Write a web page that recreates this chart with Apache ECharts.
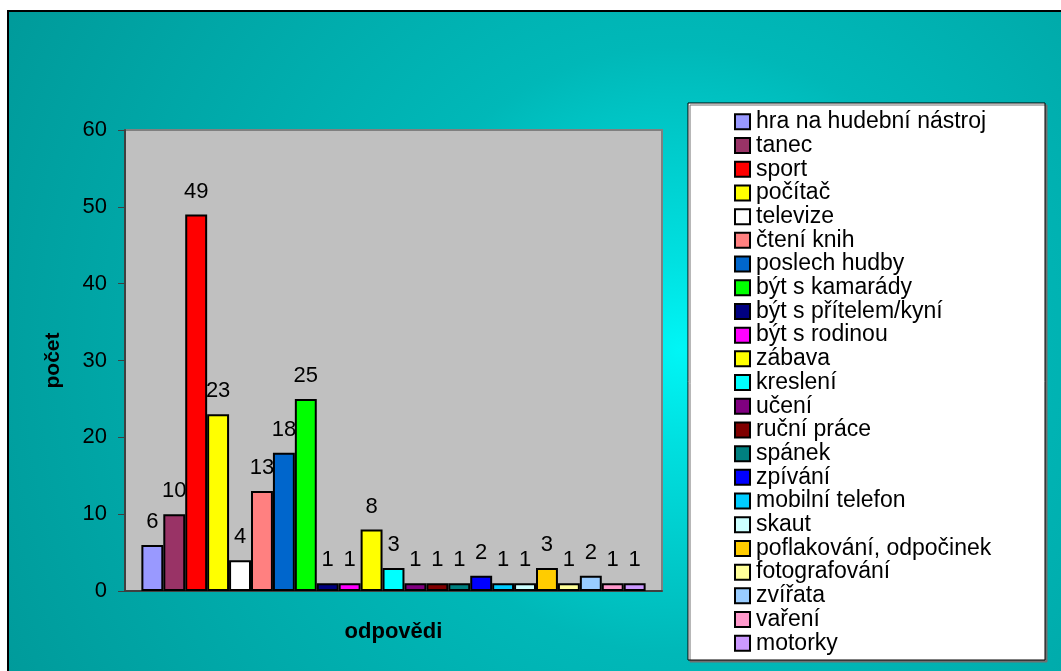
<!DOCTYPE html>
<html>
<head>
<meta charset="utf-8">
<script src="https://cdn.jsdelivr.net/npm/echarts@6/dist/echarts.min.js"></script>
<style>
html,body{margin:0;padding:0;background:#fff;}
#chart{width:1061px;height:671px;}
</style>
</head>
<body>
<div id="chart"></div>
<script>
const categories = ['hra na hudební nástroj','tanec','sport','počítač','televize','čtení knih','poslech hudby','být s kamarády','být s přítelem/kyní','být s rodinou','zábava','kreslení','učení','ruční práce','spánek','zpívání','mobilní telefon','skaut','poflakování, odpočinek','fotografování','zvířata','vaření','motorky'];
const values = [6,10,49,23,4,13,18,25,1,1,8,3,1,1,1,2,1,1,3,1,2,1,1];
const colors = ['#9999FF','#993366','#FF0000','#FFFF00','#FFFFFF','#FF8080','#0066CC','#00FF00','#000080','#FF00FF','#FFFF00','#00FFFF','#800080','#800000','#008080','#0000FF','#00CCFF','#CCFFFF','#FFCC00','#FFFF99','#99CCFF','#FF99CC','#CC99FF'];
const yTicks = [0,10,20,30,40,50,60];

const FONT = 'Arial, "Liberation Sans", sans-serif';
const chart = echarts.init(document.getElementById('chart'), null, {renderer:'canvas'});

const series = categories.map((name, i) => ({
  name: name,
  type: 'bar',
  data: [values[i]],
  barGap: '0%',
  barCategoryGap: '6.1%',
  itemStyle: { color: colors[i], borderColor: '#000', borderWidth: 2 },
  label: { show: true, position: 'top', distance: 12, color: '#000', fontSize: 22, fontFamily: FONT },
  emphasis: { disabled: true },
  animation: false
}));

chart.setOption({
  animation: false,
  graphic: [
    { type: 'rect', z: -10, silent: true,
      shape: { x: 8, y: 11, width: 1100, height: 700 },
      style: { fill: { type: 'radial', x: 680, y: 350, r: 760, global: true,
        colorStops: [ {offset:0, color:'#00F6F6'}, {offset:0.12, color:'#00E0E0'}, {offset:0.4, color:'#00B8B8'}, {offset:1, color:'#009A9A'} ] },
        stroke: '#000', lineWidth: 2 } },
    { type: 'rect', z: 1, silent: true,
      shape: { x: 688, y: 103, width: 357, height: 557 },
      style: { fill: '#fff', stroke: '#000', lineWidth: 1, shadowColor: '#707070', shadowOffsetX: 2, shadowOffsetY: 2, shadowBlur: 0 } }
  ],
  grid: { left: 125, top: 130, right: 399, bottom: 80, show: true, backgroundColor: '#C0C0C0', borderColor: '#808080', borderWidth: 2 },
  legend: {
    orient: 'vertical', left: 734, top: 110, padding: 0, itemGap: 0,
    itemWidth: 15, itemHeight: 15, icon: 'rect',
    textStyle: { fontSize: 23, fontFamily: FONT, color: '#000', lineHeight: 23.7, padding: [0,0,0,1] },
    itemStyle: { borderColor: '#000', borderWidth: 2 },
    selectedMode: false,
    data: categories
  },
  xAxis: {
    type: 'category', data: [''],
    name: 'odpovědi', nameLocation: 'middle', nameGap: 30,
    nameTextStyle: { fontSize: 22, fontWeight: 'bold', fontFamily: FONT, color: '#000' },
    axisLine: { lineStyle: { color: '#404040', width: 2 } },
    axisTick: { show: false }, axisLabel: { show: false }
  },
  yAxis: {
    type: 'value', min: yTicks[0], max: yTicks[yTicks.length-1], interval: 10,
    name: 'počet', nameLocation: 'middle', nameGap: 61, nameRotate: 90,
    nameTextStyle: { fontSize: 21, fontWeight: 'bold', fontFamily: FONT, color: '#000' },
    axisLine: { show: true, lineStyle: { color: '#404040', width: 2 } },
    axisTick: { show: true, length: 7, lineStyle: { color: '#404040', width: 1 } },
    axisLabel: { fontSize: 22, fontFamily: FONT, color: '#000', margin: 18 },
    splitLine: { show: false }
  },
  series: series
});
</script>
</body>
</html>
